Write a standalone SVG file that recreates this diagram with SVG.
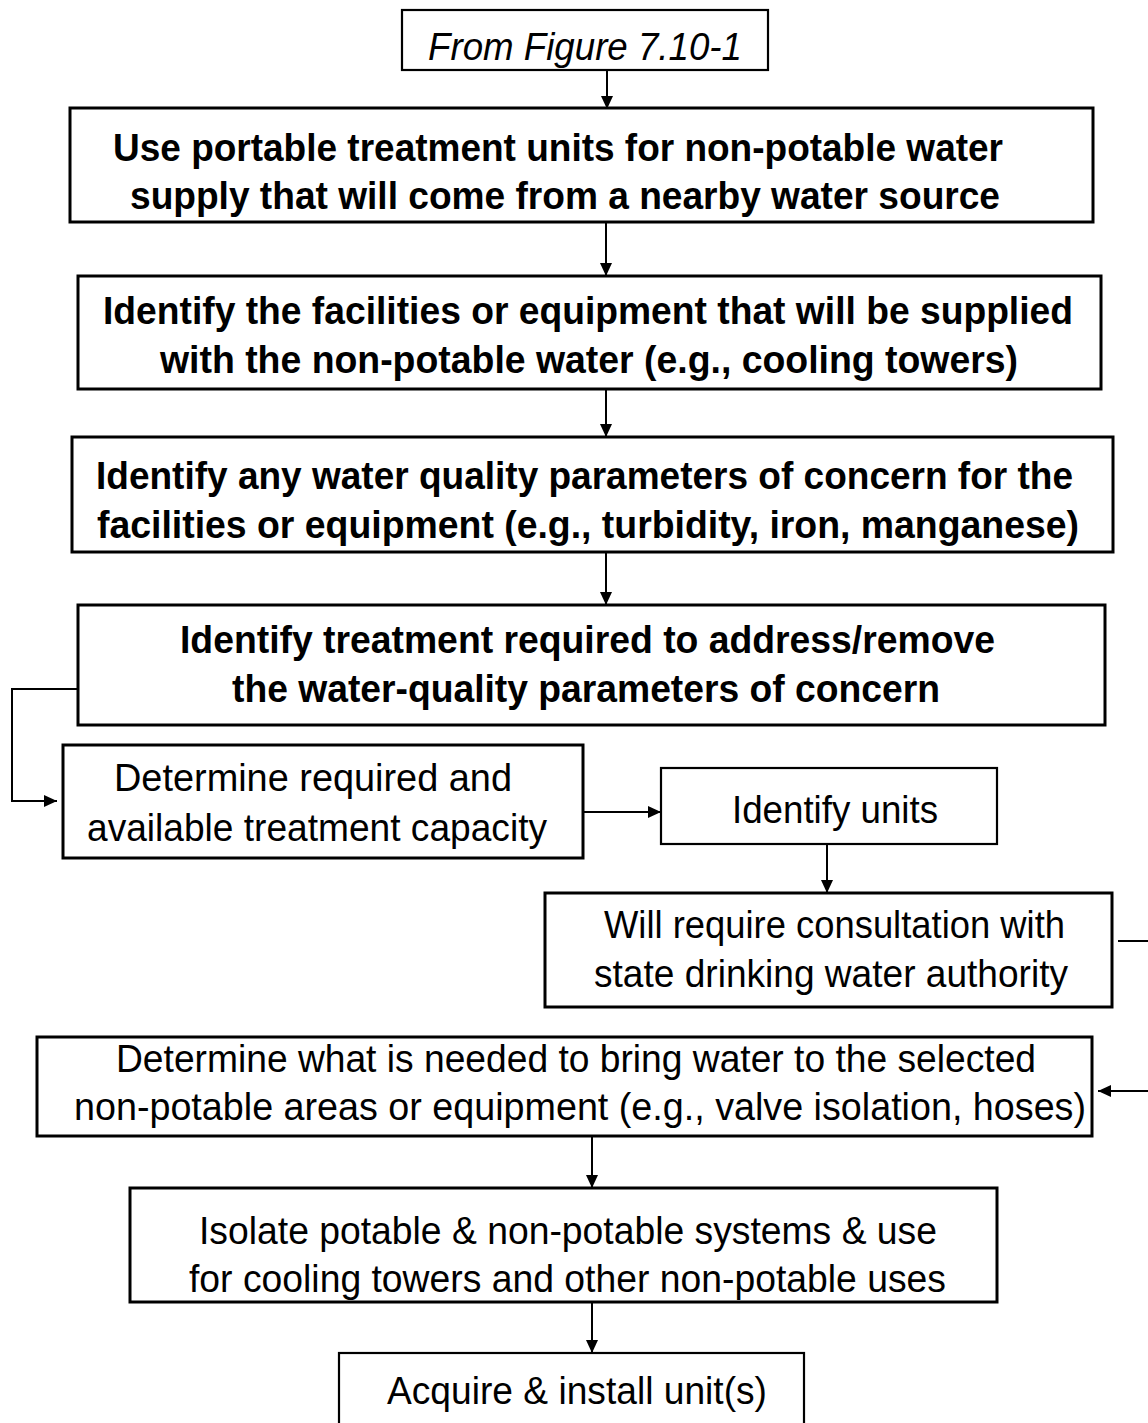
<svg xmlns="http://www.w3.org/2000/svg" width="1148" height="1423" viewBox="0 0 1148 1423">
<style>
  .box { fill: #ffffff; stroke: #000000; stroke-width: 3; }
  .thin { stroke-width: 2.2; }
  .t { font-family: "Liberation Sans", Arial, sans-serif; font-size: 38px; fill: #000000; }
  .b { font-weight: bold; }
  .i { font-style: italic; font-size: 39px; }
  .conn { fill: none; stroke: #000000; stroke-width: 2; }
</style>
<defs>
  <marker id="ah" markerUnits="userSpaceOnUse" markerWidth="14" markerHeight="12" refX="13" refY="6" orient="auto">
    <path d="M0,0 L13,6 L0,12 Z" fill="#000000"/>
  </marker>
</defs>
<rect width="1148" height="1423" fill="#ffffff"/>

<g id="connectors">
  <path class="conn" d="M607,70 V109" marker-end="url(#ah)"/>
  <path class="conn" d="M606,222 V276" marker-end="url(#ah)"/>
  <path class="conn" d="M606,389 V437" marker-end="url(#ah)"/>
  <path class="conn" d="M606,552 V605" marker-end="url(#ah)"/>
  <path class="conn" d="M78,689 H12 V801 H57" marker-end="url(#ah)"/>
  <path class="conn" d="M583,812 H661" marker-end="url(#ah)"/>
  <path class="conn" d="M827,844 V893" marker-end="url(#ah)"/>
  <path class="conn" d="M1118,941 H1152 V1091 H1098" marker-end="url(#ah)"/>
  <path class="conn" d="M592,1136 V1188" marker-end="url(#ah)"/>
  <path class="conn" d="M592,1302 V1353" marker-end="url(#ah)"/>
</g>

<g id="from-figure">
  <rect class="box thin" x="402" y="10" width="366" height="60"/>
  <text class="t i" x="428" y="60" textLength="314" lengthAdjust="spacingAndGlyphs">From Figure 7.10-1</text>
</g>

<g id="use-portable">
  <rect class="box" x="70" y="108" width="1023" height="114"/>
  <text class="t b" x="113" y="161" textLength="890" lengthAdjust="spacingAndGlyphs">Use portable treatment units for non-potable water</text>
  <text class="t b" x="130" y="209" textLength="870" lengthAdjust="spacingAndGlyphs">supply that will come from a nearby water source</text>
</g>

<g id="identify-facilities">
  <rect class="box" x="78" y="276" width="1023" height="113"/>
  <text class="t b" x="103" y="324" textLength="970" lengthAdjust="spacingAndGlyphs">Identify the facilities or equipment that will be supplied</text>
  <text class="t b" x="160" y="373" textLength="858" lengthAdjust="spacingAndGlyphs">with the non-potable water (e.g., cooling towers)</text>
</g>

<g id="identify-parameters">
  <rect class="box" x="72" y="437" width="1041" height="115"/>
  <text class="t b" x="96" y="489" textLength="977" lengthAdjust="spacingAndGlyphs">Identify any water quality parameters of concern for the</text>
  <text class="t b" x="97" y="538" textLength="982" lengthAdjust="spacingAndGlyphs">facilities or equipment (e.g., turbidity, iron, manganese)</text>
</g>

<g id="identify-treatment">
  <rect class="box" x="78" y="605" width="1027" height="120"/>
  <text class="t b" x="180" y="653" textLength="815" lengthAdjust="spacingAndGlyphs">Identify treatment required to address/remove</text>
  <text class="t b" x="232" y="702" textLength="708" lengthAdjust="spacingAndGlyphs">the water-quality parameters of concern</text>
</g>

<g id="determine-capacity">
  <rect class="box" x="63" y="745" width="520" height="113"/>
  <text class="t" x="114" y="791" textLength="398" lengthAdjust="spacingAndGlyphs">Determine required and</text>
  <text class="t" x="87" y="841" textLength="460" lengthAdjust="spacingAndGlyphs">available treatment capacity</text>
</g>

<g id="identify-units">
  <rect class="box thin" x="661" y="768" width="336" height="76"/>
  <text class="t" x="732" y="823" textLength="206" lengthAdjust="spacingAndGlyphs">Identify units</text>
</g>

<g id="consultation">
  <rect class="box" x="545" y="893" width="567" height="114"/>
  <text class="t" x="604" y="938" textLength="461" lengthAdjust="spacingAndGlyphs">Will require consultation with</text>
  <text class="t" x="594" y="987" textLength="474" lengthAdjust="spacingAndGlyphs">state drinking water authority</text>
</g>

<g id="determine-needed">
  <rect class="box" x="37" y="1037" width="1055" height="99"/>
  <text class="t" x="116" y="1072" textLength="920" lengthAdjust="spacingAndGlyphs">Determine what is needed to bring water to the selected</text>
  <text class="t" x="74" y="1120" textLength="1012" lengthAdjust="spacingAndGlyphs">non-potable areas or equipment (e.g., valve isolation, hoses)</text>
</g>

<g id="isolate-systems">
  <rect class="box" x="130" y="1188" width="867" height="114"/>
  <text class="t" x="199" y="1244" textLength="738" lengthAdjust="spacingAndGlyphs">Isolate potable &amp; non-potable systems &amp; use</text>
  <text class="t" x="189" y="1292" textLength="757" lengthAdjust="spacingAndGlyphs">for cooling towers and other non-potable uses</text>
</g>

<g id="acquire-install">
  <rect class="box thin" x="339" y="1353" width="465" height="90"/>
  <text class="t" x="387" y="1404" textLength="380" lengthAdjust="spacingAndGlyphs">Acquire &amp; install unit(s)</text>
</g>
</svg>
